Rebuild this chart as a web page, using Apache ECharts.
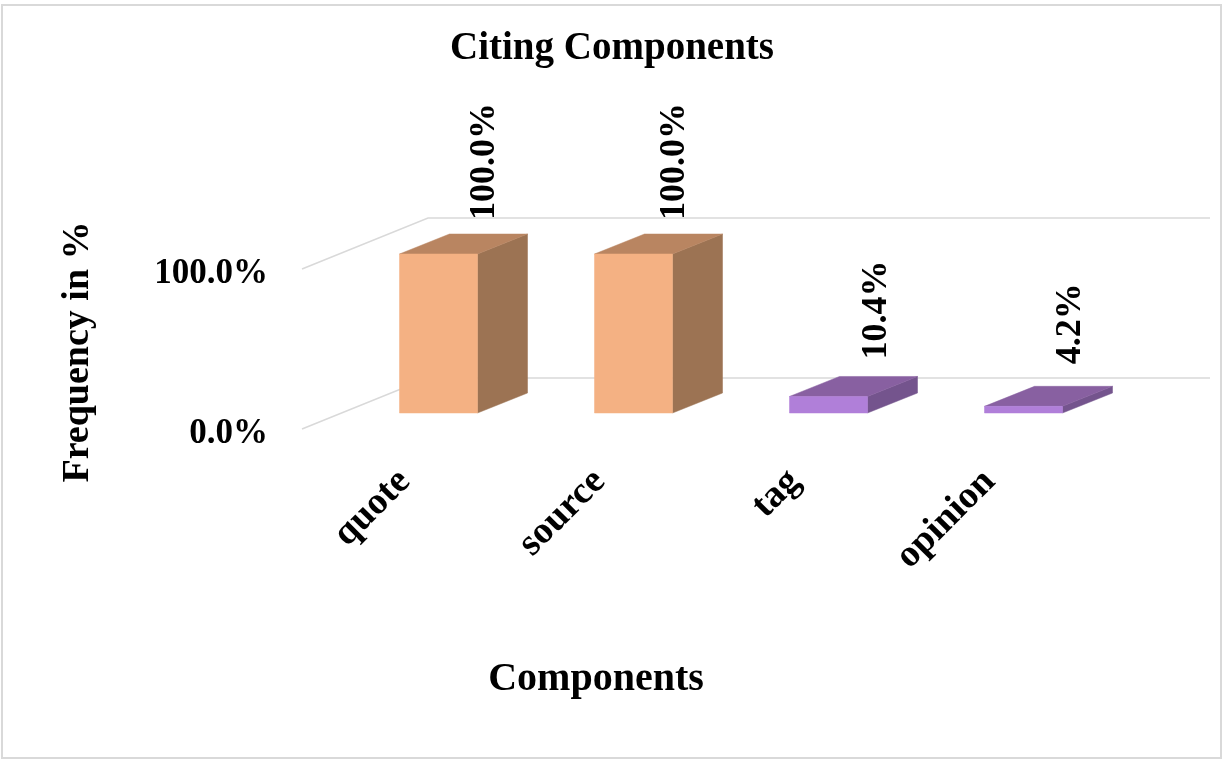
<!DOCTYPE html>
<html>
<head>
<meta charset="utf-8">
<title>Citing Components</title>
<style>html,body{margin:0;padding:0;background:#fff}#chart{width:1225px;height:760px}</style>
<script src="https://cdn.jsdelivr.net/npm/echarts@6/dist/echarts.min.js"></script>
</head>
<body>
<div id="chart"></div>
<script>
// Component frequencies in percent
const categories = ['quote', 'source', 'tag', 'opinion'];
const frequencies = [100, 100, 10.4, 4.2];
const yTicks = [0, 100];

// Face colours of each box: front, top, side
const peach = ['#F4B183', '#B98561', '#9C7353'];
const violet = ['#B07FD9', '#8860A1', '#74548D'];
const boxColours = [peach, peach, violet, violet];

// Pseudo-3D layout
const DEPTH_X = 50, DEPTH_Y = -20;
const WALL_DX = -5, WALL_DY = -5, WALL_X = 126, WALL_Y = -51, WALL_W = 782;
const labelShift = [46, 41, 48, 47];
const labelLift = [34, 34, 37, 42];

const FONT = '"Liberation Serif", serif';
const chart = echarts.init(document.getElementById('chart'));

function renderWall(params, api) {
  const x0 = params.coordSys.x + WALL_DX;
  const y = api.coord([0, api.value(0)])[1] + WALL_DY;
  return {
    type: 'polyline',
    shape: { points: [[x0, y], [x0 + WALL_X, y + WALL_Y], [x0 + WALL_X + WALL_W, y + WALL_Y]] },
    style: { stroke: '#D9D9D9', lineWidth: 1.5, fill: 'none' }
  };
}

function renderBox(params, api) {
  const i = api.value(0), v = api.value(1);
  const top = api.coord([i, v]);
  const base = api.coord([i, 0]);
  const w = api.size([1, 0])[0] * 0.4;
  const l = top[0] - w / 2, r = top[0] + w / 2;
  const c = boxColours[i];
  const face = (pts, fill) => ({ type: 'polygon', shape: { points: pts }, style: { fill, stroke: fill, lineWidth: 0.5 } });
  return {
    type: 'group',
    children: [
      face([[r, top[1]], [r + DEPTH_X, top[1] + DEPTH_Y], [r + DEPTH_X, base[1] + DEPTH_Y], [r, base[1]]], c[2]),
      face([[l, top[1]], [l + DEPTH_X, top[1] + DEPTH_Y], [r + DEPTH_X, top[1] + DEPTH_Y], [r, top[1]]], c[1]),
      face([[l, top[1]], [r, top[1]], [r, base[1]], [l, base[1]]], c[0]),
      {
        type: 'text',
        x: top[0] + labelShift[i],
        y: top[1] - labelLift[i],
        rotation: Math.PI / 2,
        style: {
          text: v.toFixed(1) + '%',
          font: 'bold 36px ' + FONT,
          fill: '#000',
          align: 'left',
          verticalAlign: 'middle'
        }
      }
    ]
  };
}

chart.setOption({
  animation: false,
  backgroundColor: '#fff',
  title: {
    text: 'Citing Components',
    left: 607,
    top: 24,
    textAlign: 'center',
    textStyle: { fontFamily: FONT, fontSize: 39, fontWeight: 'bold', color: '#000' }
  },
  graphic: [{
    type: 'rect',
    shape: { x: 2, y: 5, width: 1219, height: 753 },
    style: { fill: 'none', stroke: '#D9D9D9', lineWidth: 2 },
    silent: true
  }],
  grid: [
    { left: 341, width: 780, top: 254, height: 159 },
    { left: 307, width: 780, top: 274, height: 160 }
  ],
  xAxis: [
    { gridIndex: 0, type: 'category', data: categories, show: false },
    {
      gridIndex: 1, type: 'category', data: categories,
      axisLine: { show: false }, axisTick: { show: false },
      axisLabel: { rotate: 45, margin: 42, interval: 0, color: '#000', fontFamily: FONT, fontSize: 38, fontWeight: 'bold' },
      name: 'Components',
      nameLocation: 'middle',
      nameGap: 226,
      nameTextStyle: { color: '#000', fontFamily: FONT, fontSize: 40, fontWeight: 'bold', padding: [0, 202, 0, 0] }
    }
  ],
  yAxis: [
    { gridIndex: 0, type: 'value', min: 0, max: 100, interval: 100, show: false },
    {
      gridIndex: 1, type: 'value', min: 0, max: 100, interval: 100,
      splitLine: { show: false }, axisLine: { show: false }, axisTick: { show: false },
      axisLabel: { margin: 39, color: '#000', fontFamily: FONT, fontSize: 35, fontWeight: 'bold', formatter: v => v.toFixed(1) + '%' },
      name: 'Frequency in %',
      nameLocation: 'middle',
      nameGap: 210,
      nameRotate: 90,
      nameTextStyle: { color: '#000', fontFamily: FONT, fontSize: 38, fontWeight: 'bold', padding: [0, 0, 0, 4] }
    }
  ],
  series: [
    {
      type: 'custom', xAxisIndex: 1, yAxisIndex: 1, z: 1, silent: true,
      data: yTicks.map(v => [v]),
      encode: { y: 0 },
      renderItem: renderWall,
      clip: false
    },
    {
      type: 'custom', xAxisIndex: 0, yAxisIndex: 0, z: 2,
      data: frequencies.map((v, i) => [i, v]),
      encode: { x: 0, y: 1 },
      renderItem: renderBox,
      clip: false
    }
  ]
});
</script>
</body>
</html>
